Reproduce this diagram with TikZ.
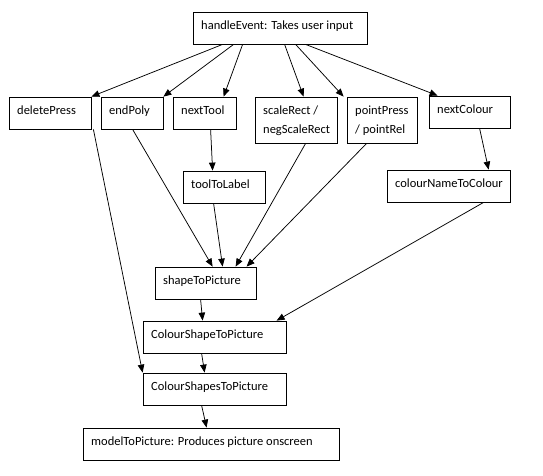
\documentclass[tikz,border=0pt]{standalone}
\usepackage{fontspec}
\setmainfont{Carlito}
\usetikzlibrary{arrows.meta,calc}
\tikzset{
  box/.style={draw=black, line width=0.8pt, rectangle, inner sep=0pt, fill=white},
  txt/.style={inner sep=0pt, anchor=base west, font=\fontsize{12.5}{19.5}\selectfont},
  conn/.style={draw=black, line width=0.75pt, -{Triangle[length=8pt,width=6.5pt]}},
}
\newcommand\mybox[6]{%
  \node[box, minimum width={#4-#2}, minimum height={#5-#3}] (#1) at ({(#2+#4)/2},{(#3+#5)/2}) {};
  \node[txt] (#1-t) at ({#2+8},{#3+17}) {#6};
}
\begin{document}
\begin{tikzpicture}[x=1pt,y=-1pt]
\useasboundingbox[fill=white] (0,0) rectangle (543,475);
\mybox{he}{193}{12}{367}{44}{handleEvent: Takes user input}
\mybox{del}{9}{97}{91}{129}{deletePress}
\mybox{ep}{101}{97}{163}{129}{endPoly}
\mybox{nt}{173}{97}{236}{129}{nextTool}
\mybox{sr}{255}{97}{337}{143}{\begin{tabular}[t]{@{}l@{}}scaleRect /\\negScaleRect\end{tabular}}
\mybox{pp}{347}{97}{417}{143}{\begin{tabular}[t]{@{}l@{}}pointPress\\/ pointRel\end{tabular}}
\mybox{nc}{429}{96}{510}{128}{nextColour}
\mybox{ttl}{183}{171}{265}{203}{toolToLabel}
\mybox{cntc}{387}{170}{510}{202}{colourNameToColour}
\mybox{stp}{155}{267}{256}{299}{shapeToPicture}
\mybox{csp}{143}{321}{286}{353}{ColourShapeToPicture}
\mybox{csps}{143}{373}{286}{405}{ColourShapesToPicture}
\mybox{mtp}{83}{428}{339}{460}{modelToPicture: Produces picture onscreen}

\draw[conn] ($(he.south west)+(30,0)$) -- (del.north east);
\draw[conn] ($(he.south west)+(41,0)$) -- (ep.north east);
\draw[conn] ($(he.south west)+(50,0)$) -- ($(nt.north west)+(51,0)$);
\draw[conn] ($(he.south west)+(92,0)$) -- ($(sr.north west)+(49,0)$);
\draw[conn] ($(he.south west)+(103,0)$) -- ($(pp.north west)+(-3,0)$);
\draw[conn] ($(he.south west)+(113,0)$) -- ($(nc.north west)+(9,0)$);

\draw[conn] ($(del.south east)+(2,0)$) -- (csps.north west);
\draw[conn] ($(ep.south west)+(32,0)$) -- ($(stp.north west)+(58,0)$);
\draw[conn] ($(nt.south west)+(38,0)$) -- ($(ttl.north west)+(30,0)$);
\draw[conn] ($(ttl.south west)+(31,0)$) -- ($(stp.north west)+(68,0)$);
\draw[conn] ($(sr.south west)+(51,0)$) -- ($(stp.north west)+(81,0)$);
\draw[conn] ($(pp.south west)+(20,0)$) -- ($(stp.north west)+(92,0)$);
\draw[conn] ($(nc.south west)+(51,0)$) -- ($(cntc.north west)+(102,0)$);
\draw[conn] ($(cntc.south west)+(97,0)$) -- ($(csp.north west)+(134,0)$);
\draw[conn] ($(stp.south west)+(46,0)$) -- ($(csp.north west)+(60,0)$);
\draw[conn] ($(csp.south west)+(59,0)$) -- ($(csps.north west)+(62,0)$);
\draw[conn] ($(csps.south west)+(59,0)$) -- ($(mtp.north west)+(124,0)$);
\end{tikzpicture}
\end{document}
